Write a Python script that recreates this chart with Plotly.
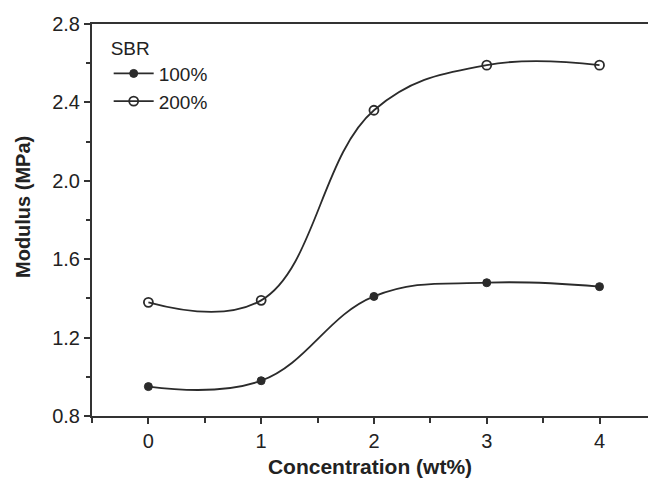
import plotly.graph_objects as go

concentration = [0, 1, 2, 3, 4]
sbr_100 = [0.95, 0.98, 1.41, 1.48, 1.46]
sbr_200 = [1.38, 1.39, 2.36, 2.59, 2.59]
series_names = ["100%", "200%"]

line_col = "#2b2b2b"
fig = go.Figure()
fig.add_trace(go.Scatter(
    x=concentration, y=sbr_100, name=series_names[0], mode="lines+markers",
    line=dict(color=line_col, width=1.8, shape="spline", smoothing=1.15),
    marker=dict(symbol="circle", size=8, color=line_col, line=dict(color=line_col, width=1)),
))
fig.add_trace(go.Scatter(
    x=concentration, y=sbr_200, name=series_names[1], mode="lines+markers",
    line=dict(color=line_col, width=1.8, shape="spline", smoothing=1.15),
    marker=dict(symbol="circle-open", size=9, color=line_col, line=dict(color=line_col, width=1.8)),
))

font_family = "Liberation Sans, Arial, sans-serif"
W, H = 648, 484
ml, mr, mt, mb = 92, 0, 24, 68
fig.update_layout(
    width=W, height=H,
    margin=dict(l=ml, r=mr, t=mt, b=mb),
    paper_bgcolor="white", plot_bgcolor="white",
    font=dict(family=font_family, size=20, color="#222"),
    showlegend=True,
    legend=dict(
        title=dict(text="SBR", font=dict(size=19, color="#222")),
        x=0.03, y=0.985, xanchor="left", yanchor="top",
        bgcolor="rgba(0,0,0,0)", font=dict(size=19, color="#222"),
        tracegroupgap=0, itemwidth=40,
    ),
    xaxis=dict(
        range=[-0.5, 4.43], tickvals=concentration, ticktext=[str(c) for c in concentration],
        ticks="outside", ticklen=6, tickwidth=1.5, tickcolor="#333",
        minor=dict(dtick=0.5, tick0=0, ticks="outside", ticklen=5, tickwidth=1.5, tickcolor="#333", showgrid=False),
        showline=True, linecolor="#333", linewidth=2, mirror=True,
        showgrid=False, zeroline=False,
        title=dict(text="<b>Concentration (wt%)</b>", font=dict(size=21, color="#222"), standoff=8),
        tickfont=dict(size=20, color="#222"),
    ),
    yaxis=dict(
        range=[0.8, 2.8], tickvals=[0.8, 1.2, 1.6, 2.0, 2.4, 2.8],
        ticktext=["0.8", "1.2", "1.6", "2.0", "2.4", "2.8"],
        ticks="outside", ticklen=6, tickwidth=1.5, tickcolor="#333",
        minor=dict(dtick=0.2, tick0=0.8, ticks="outside", ticklen=4, tickwidth=1.5, tickcolor="#333", showgrid=False),
        showline=True, linecolor="#333", linewidth=2,
        showgrid=False, zeroline=False,
        tickfont=dict(size=20, color="#222"),
    ),
)

plot_h = H - mt - mb
fig.add_annotation(
    text="<b>Modulus (MPa)</b>", textangle=-90, showarrow=False,
    xref="paper", yref="paper",
    x=(23 - ml) / (W - ml - mr), y=(H - mb - 207) / plot_h,
    xanchor="center", yanchor="middle",
    font=dict(size=20, color="#222", family=font_family),
)

fig.write_html("out.html")
